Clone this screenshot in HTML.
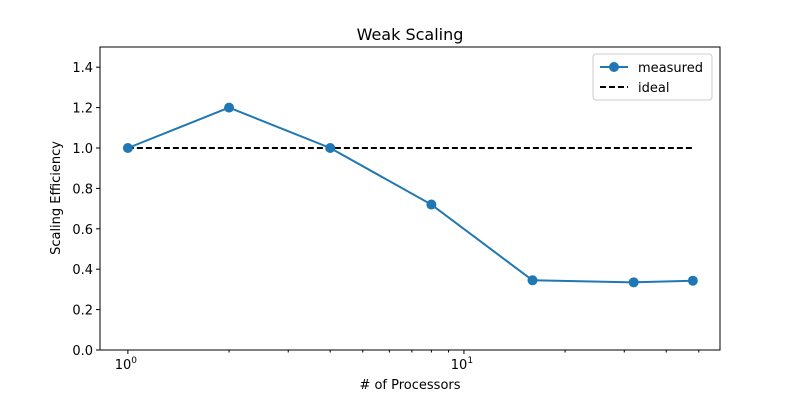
<!DOCTYPE html>
<html><head><meta charset="utf-8"><style>body{margin:0;background:#fff}svg{display:block;font-family:"DejaVu Sans","Liberation Sans",sans-serif}</style></head>
<body>
<svg id="chart" width="800" height="400">
<rect width="800" height="400" fill="#fff"/>
<text x="410" y="40" text-anchor="middle" font-size="16">Weak Scaling</text>
<g id="grid"></g>
<g id="plot"></g>
<rect x="100" y="47" width="620" height="303" fill="none" stroke="#000" stroke-width="1"/>
<text x="410" y="389" text-anchor="middle" font-size="13"># of Processors</text>
<text transform="translate(60,198) rotate(-90)" text-anchor="middle" font-size="13">Scaling Efficiency</text>
<g>
<rect x="593" y="54" width="119" height="46" fill="#fff" stroke="#ccc" rx="3"/>
<line x1="600" y1="67" x2="628" y2="67" stroke="#1f77b4" stroke-width="2"/>
<circle cx="614" cy="67" r="5" fill="#1f77b4"/>
<text x="638" y="72" font-size="13">measured</text>
<line x1="600" y1="87" x2="628" y2="87" stroke="#000" stroke-width="2" stroke-dasharray="6,3"/>
<text x="638" y="92" font-size="13">ideal</text>
</g>
</svg>
<script>
const procs = [1, 2, 4, 8, 16, 32, 48];
const measured = [1.0, 1.2, 1.0, 0.72, 0.345, 0.335, 0.343];
const ideal = [1, 1, 1, 1, 1, 1, 1];
const yTicks = [0.0, 0.2, 0.4, 0.6, 0.8, 1.0, 1.2, 1.4];
const NS = "http://www.w3.org/2000/svg";
const L = 100, R = 720, T = 47, B = 350;
const xmin = -0.083, xmax = 1.762, ymin = 0, ymax = 1.5;
const xs = v => L + (Math.log10(v) - xmin) / (xmax - xmin) * (R - L);
const ys = v => B - (v - ymin) / (ymax - ymin) * (B - T);
const svg = document.getElementById('chart');
const g = document.getElementById('grid');
const p = document.getElementById('plot');
function mk(tag, attrs, parent) { const e = document.createElementNS(NS, tag); for (const k in attrs) e.setAttribute(k, attrs[k]); parent.appendChild(e); return e; }
yTicks.forEach(t => {
  const y = ys(t);
  const ln = mk('line', {x1: L - 4, x2: L, y1: y, y2: y, stroke: '#000'}, g);
  
  
  const tx = mk('text', {x: L - 7, y: y + 5, 'text-anchor': 'end', 'font-size': 13}, g);
  tx.textContent = t.toFixed(1);
  
  
});
[1, 10].forEach((v, i) => {
  const x = xs(v);
  mk('line', {x1: x, x2: x, y1: B, y2: B + 4, stroke: '#000'}, g);
  const tx = mk('text', {x: x - 2, y: B + 19, 'text-anchor': 'middle', 'font-size': 13}, g);
  tx.innerHTML = '10<tspan dy="-6" font-size="9">' + i + '</tspan>';
  
  
});
[2,3,4,5,6,7,8,9,20,30,40,50].forEach(v => {
  const x = xs(v);
  if (x < R) mk('line', {x1: x, x2: x, y1: B, y2: B + 2.5, stroke: '#000'}, g);
});
const idealLine = mk('polyline', {points: procs.map((v, i) => xs(v) + ',' + ys(ideal[i])).join(' '), fill: 'none', stroke: '#000', 'stroke-width': 2, 'stroke-dasharray': '6,3'}, p);


const mLine = mk('polyline', {points: procs.map((v, i) => xs(v) + ',' + ys(measured[i])).join(' '), fill: 'none', stroke: '#1f77b4', 'stroke-width': 2}, p);


procs.forEach((v, i) => {
  const c = mk('circle', {cx: xs(v), cy: ys(measured[i]), r: 5, fill: '#1f77b4'}, p);
  
  
});
</script>
</body></html>
